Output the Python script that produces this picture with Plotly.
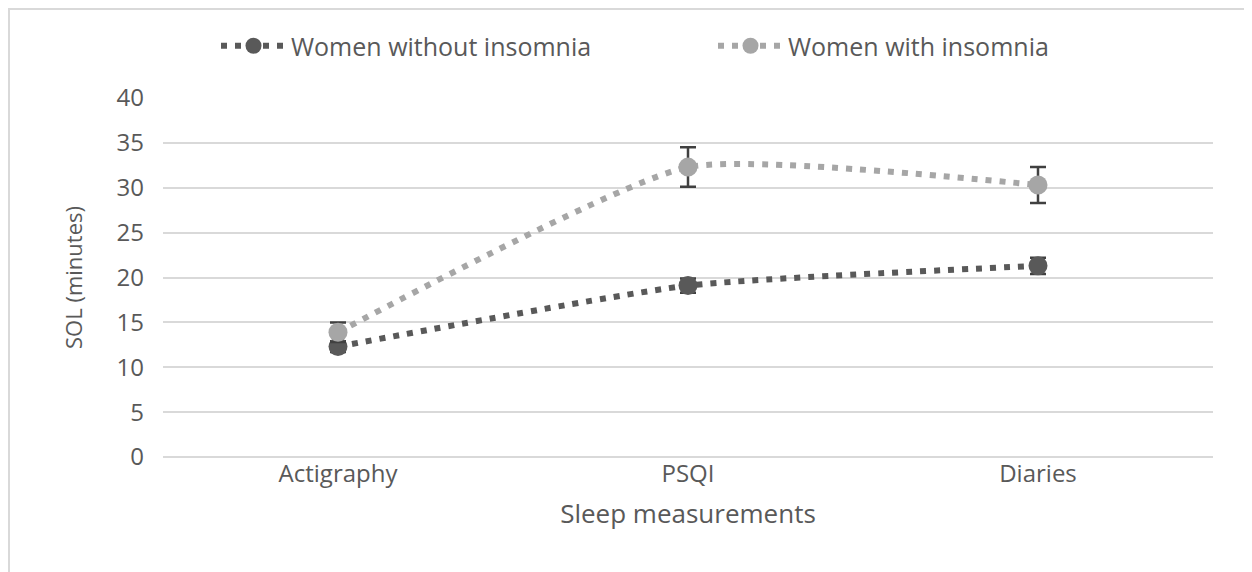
import plotly.graph_objects as go

categories = ["Actigraphy", "PSQI", "Diaries"]
without_vals = [12.3, 19.1, 21.3]
without_err = [0.6, 0.8, 0.9]
with_vals = [13.9, 32.3, 30.3]
with_err = [1.1, 2.2, 2.0]
y_ticks = [0, 5, 10, 15, 20, 25, 30, 35, 40]

W, H = 1244, 564
L, R, T, B = 155, 39, 90, 115
PW, PH = W - L - R, H - T - B

fig = go.Figure()
fig.add_trace(go.Scatter(
    x=categories, y=without_vals, name="Women without insomnia",
    mode="lines+markers", legend="legend",
    line=dict(color="#595959", width=6, dash="6px,8px", shape="spline", smoothing=0.5),
    marker=dict(color="#595959", size=19),
    error_y=dict(type="data", array=without_err, color="#404040", thickness=2.5, width=8),
))
fig.add_trace(go.Scatter(
    x=categories, y=with_vals, name="Women with insomnia",
    mode="lines+markers", legend="legend2",
    line=dict(color="#A6A6A6", width=6, dash="6px,8px", shape="spline", smoothing=0.5),
    marker=dict(color="#A6A6A6", size=19),
    error_y=dict(type="data", array=with_err, color="#404040", thickness=2.5, width=8),
))

leg_common = dict(orientation="h", y=1 - 38 / H, yanchor="middle", yref="container",
                  xanchor="left", font=dict(size=25, color="#595959"), itemwidth=65,
                  bgcolor="rgba(0,0,0,0)")

fig.update_layout(
    width=W, height=H,
    paper_bgcolor="white", plot_bgcolor="white",
    margin=dict(l=L, r=R, t=T, b=B),
    font=dict(family="Open Sans", color="#595959", size=24),
    legend=dict(x=(216 - 8 - L) / PW, **leg_common),
    legend2=dict(x=(713 - 8 - L) / PW, **leg_common),
    showlegend=True,
    xaxis=dict(range=[-0.5, 2.5], showgrid=False, showline=False, ticks="",
               title=dict(text="Sleep measurements", font=dict(size=26, color="#595959"), standoff=16),
               tickfont=dict(size=24)),
    yaxis=dict(range=[0, 40], tickvals=y_ticks, showgrid=True, gridcolor="#D9D9D9", gridwidth=2,
               zeroline=True, zerolinecolor="#D9D9D9", zerolinewidth=2, showline=False,
               ticks="", ticklabelstandoff=18,
               title=dict(text="SOL (minutes)", font=dict(size=22, color="#595959"), standoff=27),
               tickfont=dict(size=24)),
    shapes=[dict(type="rect", xref="paper", yref="paper",
                 x0=-(L - 1) / PW, x1=(1237 - L) / PW, y0=-(B + 10) / PH, y1=1 + (T - 1) / PH,
                 line=dict(color="#D9D9D9", width=2))],
)

fig.write_html("out.html")
